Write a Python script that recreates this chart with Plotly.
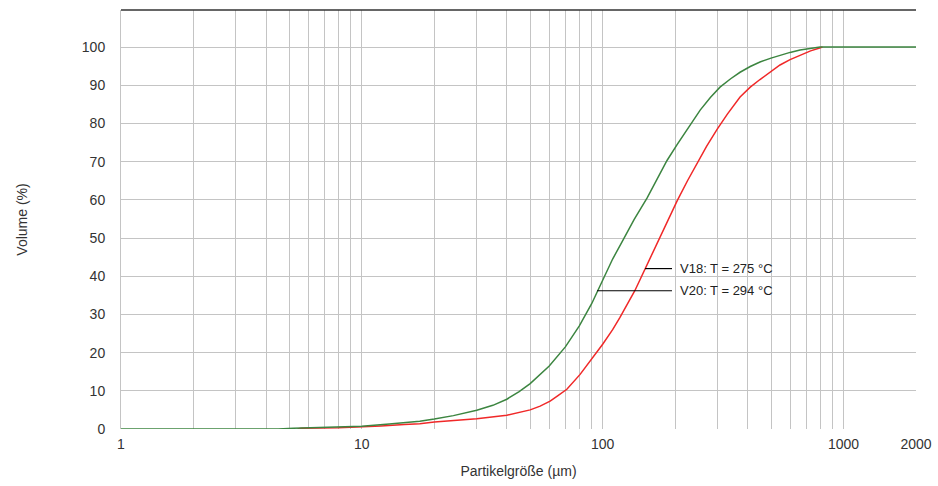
import math
import plotly.graph_objects as go

# V20 (green)
v20_x = [1, 4.5, 5.2, 7, 10, 13, 17.4, 20, 24, 30, 35, 40, 45, 50, 60, 70, 80, 90, 100, 110,
         121.6, 135, 153, 170, 185, 204, 224, 254, 280, 307, 340, 372, 410, 450, 500, 545,
         600, 660, 730, 800, 2000]
v20_y = [0, 0, 0.2, 0.35, 0.7, 1.3, 2.0, 2.6, 3.5, 4.9, 6.2, 7.8, 9.8, 11.9, 16.5, 21.5, 27.0,
         32.8, 38.8, 44.5, 49.5, 54.8, 60.5, 66.0, 70.3, 74.5, 78.3, 83.5, 86.8, 89.5, 91.7,
         93.4, 94.9, 96.1, 97.1, 97.9, 98.6, 99.2, 99.7, 100, 100]

# V18 (red)
v18_x = [5.4, 5.6, 8, 10, 12, 15, 17.4, 20, 25, 30, 40, 45, 50, 55, 60.5, 65, 71, 80.6, 91,
         100, 110, 118, 136, 150, 168, 185, 204, 225, 247, 270, 299, 330, 372, 410, 450, 500,
         545, 600, 660, 730, 790, 818]
v18_y = [0, 0.2, 0.3, 0.5, 0.8, 1.2, 1.4, 1.8, 2.3, 2.7, 3.6, 4.4, 5.0, 6.0, 7.3, 8.7, 10.4,
         14.3, 18.7, 22.2, 26.0, 29.2, 36.2, 42.0, 48.5, 54.0, 59.8, 65.0, 69.5, 74.0, 78.5,
         82.5, 86.9, 89.5, 91.5, 93.6, 95.3, 96.7, 97.9, 99.0, 99.7, 100]

x_tickvals = [1, 10, 100, 1000, 2000]
x_ticktext = ["1", "10", "100", "1000", "2000"]
x_minor = [2, 3, 4, 5, 6, 7, 8, 9, 20, 30, 40, 50, 60, 70, 80, 90,
           200, 300, 400, 500, 600, 700, 800, 900]
y_tickvals = [0, 10, 20, 30, 40, 50, 60, 70, 80, 90, 100]

labels = ["V18: T = 275 °C", "V20: T = 294 °C"]
label_y = [42, 36.2]
leader_start = [150, 94.8]
leader_end = 194
label_x = 205

GRID = "#c4c4c4"
FONT = "Liberation Sans, Arial, sans-serif"

fig = go.Figure()
fig.add_trace(go.Scatter(x=v18_x, y=v18_y, mode="lines",
                         line=dict(color="#f02828", width=1.5), hoverinfo="skip"))
fig.add_trace(go.Scatter(x=v20_x, y=v20_y, mode="lines",
                         line=dict(color="#3c8540", width=1.5), hoverinfo="skip"))

for xs, ys in zip(leader_start, label_y):
    fig.add_trace(go.Scatter(x=[xs, leader_end], y=[ys, ys], mode="lines",
                             line=dict(color="#000000", width=1.2), hoverinfo="skip"))

for txt, ys in zip(labels, label_y):
    fig.add_annotation(x=math.log10(label_x), y=ys, xref="x", yref="y", text=txt,
                       showarrow=False, xanchor="left", yanchor="middle",
                       font=dict(family=FONT, size=13, color="#222222"))

fig.add_shape(type="line", xref="paper", yref="paper", x0=0, x1=1, y0=1, y1=1,
              line=dict(color="#333333", width=1.5))

fig.update_layout(
    width=938, height=486,
    margin=dict(l=121, r=22, t=10, b=57, autoexpand=False),
    paper_bgcolor="white", plot_bgcolor="white",
    showlegend=False,
    font=dict(family=FONT, size=14, color="#333333"),
    xaxis=dict(type="log", range=[0, math.log10(2000)], automargin=False,
               tickvals=x_tickvals, ticktext=x_ticktext,
               showgrid=True, gridcolor=GRID, gridwidth=1,
               minor=dict(tickvals=x_minor, showgrid=True, gridcolor=GRID, gridwidth=1, ticks=""),
               ticks="", ticklabelstandoff=5, zeroline=False,
               showline=False,
               title=dict(text="Partikelgröße (µm)", standoff=15,
                          font=dict(family=FONT, size=14, color="#333333")),
               tickfont=dict(family=FONT, size=14, color="#333333")),
    yaxis=dict(range=[0, 109.7], tickvals=y_tickvals, automargin=False,
               showgrid=True, gridcolor=GRID, gridwidth=1,
               ticks="", ticklabelstandoff=12, zeroline=False,
               showline=True, linecolor=GRID, linewidth=1,
               title=dict(text="Volume (%)", standoff=50,
                          font=dict(family=FONT, size=14, color="#333333")),
               tickfont=dict(family=FONT, size=14, color="#333333")),
)

fig.write_html("out.html")
